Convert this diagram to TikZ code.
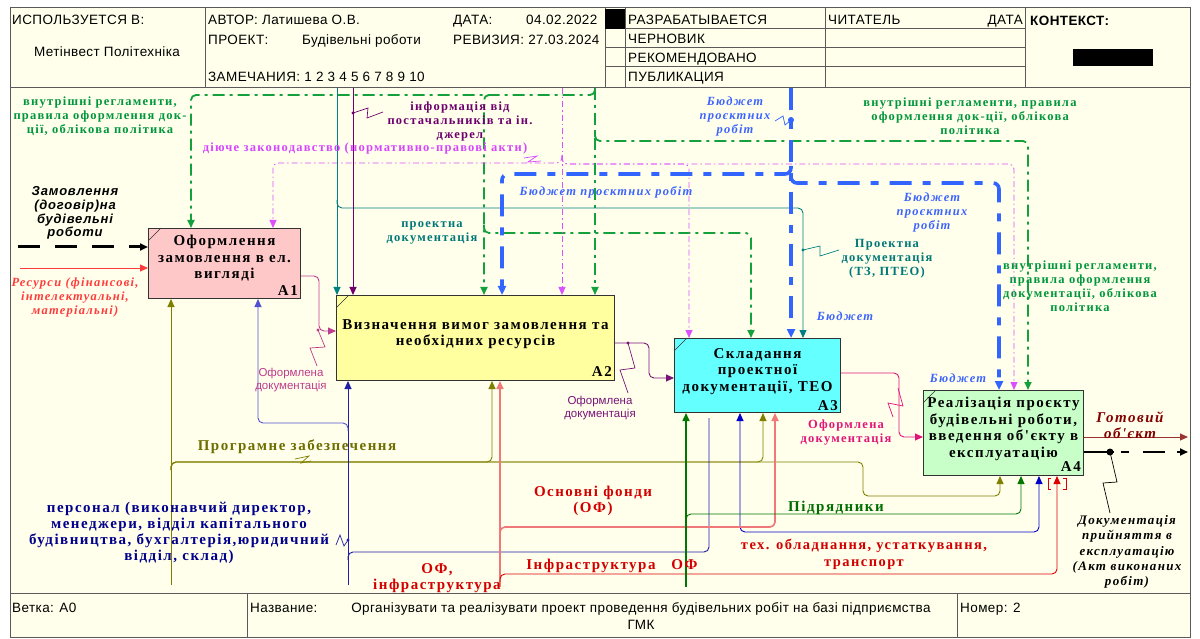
\documentclass[tikz,border=0pt]{standalone}
\usepackage{fontspec}
\setmainfont{Liberation Serif}
\newfontfamily\hdrfamily[LetterSpace=3]{Liberation Sans}
\newfontfamily\plainsans{Liberation Sans}
\newfontfamily\lblfamily[LetterSpace=10]{Liberation Serif}
\newfontfamily\itsansfamily[LetterSpace=6]{Liberation Sans}
\usetikzlibrary{arrows.meta,calc}

\newcommand\hdrfont{\hdrfamily\fontsize{13.5}{15}\selectfont}
\newcommand\boxfont{\lblfamily\bfseries\fontsize{15}{16.5}\selectfont}
\newcommand\lblfont{\lblfamily\bfseries\fontsize{12.5}{14}\selectfont}
\newcommand\biglblfont{\lblfamily\bfseries\fontsize{15}{16.5}\selectfont}
\newcommand\itlblfont{\lblfamily\bfseries\itshape\fontsize{12.5}{14}\selectfont}
\newcommand\smallsans{\plainsans\fontsize{11.5}{12.5}\selectfont}

\definecolor{paper}{RGB}{255,255,236}
\definecolor{framecol}{RGB}{90,90,90}
\definecolor{boxpink}{RGB}{255,200,200}
\definecolor{boxyellow}{RGB}{255,255,160}
\definecolor{boxcyan}{RGB}{100,255,255}
\definecolor{boxgreen}{RGB}{200,255,200}
\definecolor{ctrlgreen}{RGB}{20,160,60}
\definecolor{lawcol}{RGB}{220,80,255}
\definecolor{budcol}{RGB}{50,100,255}
\definecolor{docteal}{RGB}{0,128,128}
\definecolor{infocol}{RGB}{110,0,110}
\definecolor{swcol}{RGB}{128,128,0}
\definecolor{staffcol}{RGB}{30,30,170}
\definecolor{staffA1col}{RGB}{80,80,210}
\definecolor{techcol}{RGB}{0,0,200}
\definecolor{fundcol}{RGB}{240,120,120}
\definecolor{infracol}{RGB}{220,0,0}
\definecolor{subcol}{RGB}{0,120,0}
\definecolor{out1col}{RGB}{190,60,140}
\definecolor{out2col}{RGB}{120,20,120}
\definecolor{out3col}{RGB}{225,20,120}
\definecolor{prodcol}{RGB}{130,0,0}
\definecolor{resred}{RGB}{255,60,60}
\definecolor{txtgreen}{RGB}{0,150,60}
\definecolor{txtmag}{RGB}{215,70,255}
\definecolor{txtblue}{RGB}{60,100,255}
\definecolor{txtteal}{RGB}{0,120,120}
\definecolor{txtred}{RGB}{210,0,0}
\definecolor{txtnavy}{RGB}{0,0,140}
\definecolor{txtolive}{RGB}{110,110,0}
\definecolor{txtsub}{RGB}{0,110,0}

\begin{document}
\begin{tikzpicture}[x=1pt,y=-1pt,
  frame/.style={draw=framecol, line width=1pt},
  box/.style={draw=black!80, line width=1pt, anchor=north west, inner sep=0pt},
  boxtext/.style={align=center, font=\boxfont, inner sep=0pt},
  boxid/.style={anchor=east, font=\boxfont, inner sep=0pt},
  hdr/.style={anchor=base west, inner sep=0pt, font=\hdrfont},
  lbl/.style={align=center, inner sep=0pt, font=\lblfont},
  itlbl/.style={align=center, inner sep=0pt, font=\itlblfont},
  biglbl/.style={align=center, inner sep=0pt, font=\biglblfont},
  idefarrow/.style={-{Triangle[length=8pt,width=7pt]}},
  ctrl/.style={draw=ctrlgreen, line width=1.8pt, dash pattern=on 12pt off 5pt on 3pt off 5pt, rounded corners=5pt, idefarrow},
  law/.style={draw=lawcol, line width=0.8pt, dash pattern=on 6pt off 3pt on 1.5pt off 3pt, rounded corners=5pt, idefarrow},
  tealline/.style={draw=docteal, line width=0.9pt, rounded corners=5pt, idefarrow},
  infoline/.style={draw=infocol, line width=0.9pt, idefarrow},
  budget/.style={draw=budcol, line width=3.6pt, dash pattern=on 22pt off 11pt on 8pt off 11pt, rounded corners=6pt, -{Triangle[length=9pt,width=8pt]}},
  out1/.style={draw=out1col, line width=0.9pt, rounded corners=5pt, idefarrow},
  out2/.style={draw=out2col, line width=0.9pt, rounded corners=5pt, idefarrow},
  out3/.style={draw=out3col, line width=0.9pt, rounded corners=5pt, idefarrow},
  prod/.style={draw=prodcol!80, line width=1pt, idefarrow},
  docout/.style={draw=black, line width=2.6pt, dash pattern=on 30pt off 7pt on 8pt off 14pt on 22pt off 12pt, -{Triangle[length=8pt,width=7pt]}},
  order/.style={draw=black, line width=3pt, dash pattern=on 22pt off 15pt, -{Triangle[length=8pt,width=7pt]}},
  resin/.style={draw=resred, line width=0.9pt, idefarrow},
  sw/.style={draw=swcol, line width=0.9pt, rounded corners=5pt, idefarrow},
  staff/.style={draw=staffcol, line width=0.9pt, rounded corners=5pt, idefarrow},
  staffA1/.style={draw=staffA1col, line width=0.9pt, rounded corners=5pt, idefarrow},
  staffnt/.style={draw=staffcol, line width=0.9pt, rounded corners=5pt},
  techline/.style={draw=techcol, line width=0.9pt, rounded corners=5pt, {Triangle[length=8pt,width=7pt]}-{Triangle[length=8pt,width=7pt]}},
  fund/.style={draw=fundcol, line width=1.6pt, rounded corners=5pt, idefarrow},
  infra/.style={draw=infracol, line width=0.9pt, rounded corners=5pt, idefarrow},
  subv/.style={draw=subcol, line width=1.6pt, idefarrow},
  subh/.style={draw=subcol, line width=0.9pt, rounded corners=5pt, idefarrow},
  squig/.style={line width=0.7pt}
]
\useasboundingbox (0,0) rectangle (1200,639);
\fill[white] (0,0) rectangle (1200,639);
\fill[paper] (10,8) rectangle (1190,637);

% ---------- header grid ----------
\draw[frame] (10,8) rectangle (1190,637);
\draw[frame] (10,88) -- (1190,88);
\draw[frame] (205,8) -- (205,88);
\draw[frame] (605,8) -- (605,88);
\draw[frame] (625,8) -- (625,88);
\draw[frame] (825,8) -- (825,88);
\draw[frame] (1025,8) -- (1025,88);
\foreach \yy in {29,48,67} \draw[frame] (605,\yy) -- (1025,\yy);
\fill[black] (605,9) rectangle (625,29);
\fill[black] (1073,49) rectangle (1153,66);

\node[hdr] (hUsed) at (12,25) {ИСПОЛЬЗУЕТСЯ В:};
\node[hdr, anchor=base] (hOrg) at (107,57) {Метінвест Політехніка};
\node[hdr] (hAuthor) at (208,25) {АВТОР: Латишева О.В.};
\node[hdr] (hDate) at (453,25) {ДАТА:};
\node[hdr] (hDateV) at (526,25) {04.02.2022};
\node[hdr] (hProj) at (208,45) {ПРОЕКТ:};
\node[hdr] (hProjV) at (302,45) {Будівельні роботи};
\node[hdr] (hRev) at (453,45) {РЕВИЗИЯ: 27.03.2024};
\node[hdr] (hNotes) at (208,82) {ЗАМЕЧАНИЯ: 1 2 3 4 5 6 7 8 9 10};
\node[hdr] (hS1) at (628,25) {РАЗРАБАТЫВАЕТСЯ};
\node[hdr] (hS2) at (628,44) {ЧЕРНОВИК};
\node[hdr] (hS3) at (628,63) {РЕКОМЕНДОВАНО};
\node[hdr] (hS4) at (628,82) {ПУБЛИКАЦИЯ};
\node[hdr] (hReader) at (828,25) {ЧИТАТЕЛЬ};
\node[hdr, anchor=base east] (hRDate) at (1023,25) {ДАТА};
\node[hdr, font=\hdrfont\bfseries] (hCtx) at (1030,26) {КОНТЕКСТ:};

% ---------- footer ----------
\draw[frame] (10,593) -- (1190,593);
\draw[frame] (247,593) -- (247,637);
\draw[frame] (957,593) -- (957,637);
\node[hdr] (fBranch) at (12,612) {Ветка: А0};
\node[hdr] (fName) at (250,612) {Название:};
\node[hdr, anchor=center, align=center, font=\hdrfamily\fontsize{13.5}{17}\selectfont] (fTitle) at (641,616) {Організувати та реалізувати проект проведення будівельних робіт на базі підприємства\\ГМК};
\node[hdr] (fNum) at (960,612) {Номер: 2};

% ---------- activity boxes ----------
\node[box, fill=boxpink, minimum width=152pt, minimum height=70pt] (A1) at (148,228) {};
\node[box, fill=boxyellow, minimum width=278pt, minimum height=85pt] (A2) at (336,295) {};
\node[box, fill=boxcyan, minimum width=166pt, minimum height=74pt] (A3) at (674,338) {};
\node[box, fill=boxgreen, minimum width=160pt, minimum height=85pt] (A4) at (923,390) {};
\foreach \b in {A1,A2,A3,A4}
  \draw[black!80, line width=0.6pt] (\b.north west) ++(0,13) -- ++(13,-13);

\node[boxtext] (A1t) at ($(A1.center)+(0,-5)$) {Оформлення\\замовлення в ел.\\вигляді};
\node[boxtext] (A2t) at ($(A2.center)+(0,-4)$) {Визначення вимог замовлення та\\необхідних ресурсів};
\node[boxtext] (A3t) at ($(A3.center)+(0,-4)$) {Складання\\проектної\\документації, ТЕО};
\node[boxtext] (A4t) at ($(A4.center)+(0,-4)$) {Реалізація проєкту\\будівельні роботи,\\введення об'єкту в\\експлуатацію};
\node[boxid] (A1n) at ($(A1.south east)+(-3,-8)$) {A1};
\node[boxid] (A2n) at ($(A2.south east)+(-3,-9)$) {A2};
\node[boxid] (A3n) at ($(A3.south east)+(-3,-7)$) {A3};
\node[boxid] (A4n) at ($(A4.south east)+(-3,-9)$) {A4};

% ---------- controls (from the top) ----------
\coordinate (gTop) at (595,88);
\coordinate (gLeft) at (191,95);
\coordinate (gMid) at (484,95);
\coordinate (gA3) at (751,233);
\coordinate (gA4) at (1028,141);
\draw[ctrl] (gTop) -- (gTop |- A2.north);
\draw[ctrl] (gTop) |- (gLeft) -- (gLeft |- A1.north);
\draw[ctrl] ($(gMid)+(10,0)$) -| (gMid |- A2.north);
\draw[ctrl] ($(gMid|-gA3)+(0,-8)$) |- (gA3) -- (gA3 |- A3.north);
\draw[ctrl] ($(gTop|-gA4)+(0,-8)$) |- (gA4) -- (gA4 |- A4.north);

\coordinate (mTop) at (562,88);
\coordinate (mA1) at (273,163);
\coordinate (mA3) at (689,164);
\coordinate (mA4) at (1014,164);
\draw[law] (mTop) -- (mTop |- A2.north);
\draw[law] ($(mTop|-mA1)+(0,-8)$) |- (mA1) -- (mA1 |- A1.north);
\draw[law] ($(mTop|-mA3)+(0,-8)$) |- (mA3) -- (mA3 |- A3.north);
\draw[law] ($(mTop|-mA4)+(0,-8)$) |- (mA4) -- (mA4 |- A4.north);

\coordinate (tTop) at (337,88);
\coordinate (tA3) at (803,208);
\draw[tealline] (tTop) -- (tTop |- A2.north);
\draw[tealline] ($(tTop|-tA3)+(0,-8)$) |- (tA3) -- (tA3 |- A3.north);

\coordinate (pTop) at (353,88);
\draw[infoline] (pTop) -- (pTop |- A2.north);

\coordinate (bTop) at (791,88);
\coordinate (bA2) at (502,174);
\coordinate (bA4) at (999,183);
\draw[budget] (bTop) -- (bTop |- A3.north);
\draw[budget] ($(bTop|-bA2)+(0,-8)$) |- (bA2) -- (bA2 |- A2.north);
\draw[budget] ($(bTop|-bA4)+(0,-8)$) |- (bA4) -- (bA4 |- A4.north);

% ---------- inputs ----------
\coordinate (ordStart) at (18,247);
\draw[order] (ordStart) -- (ordStart -| A1.west);
\coordinate (resStart) at (20,268);
\draw[resin] (resStart) -- (resStart -| A1.west);

% ---------- outputs ----------
\draw[out1] ($(A1.north east)+(0,48)$) -- ++(18,0) |- ($(A2.north west)+(0,36)$);
\draw[out2] ($(A2.north east)+(0,48)$) -- ++(34,0) |- ($(A3.north west)+(0,40)$);
\draw[out3] ($(A3.north east)+(0,35)$) -- ++(58,0) |- ($(A4.north west)+(0,47)$);
\coordinate (prodEnd) at (1188,437);
\coordinate (docEnd) at (1188,452);
\draw[prod] (prodEnd -| A4.east) -- (prodEnd);
\draw[docout] (docEnd -| A4.east) -- (docEnd);

% ---------- mechanisms (from the bottom) ----------
\coordinate (swBot) at (171,585);
\coordinate (swA2) at (492,462);
\coordinate (swA3) at (763,462);
\coordinate (swJog) at (863,462);
\coordinate (swA4) at (1000,496);
\draw[sw] (swBot) -- (swBot |- A1.south);
\draw[sw] ($(swBot|-swA2)+(0,8)$) |- (swA2) -- (swA2 |- A2.south);
\draw[sw] ($(swBot|-swA3)+(0,8)$) |- (swA3) -- (swA3 |- A3.south);
\draw[sw] ($(swBot|-swA3)+(0,8)$) |- (swJog) |- (swA4) -- (swA4 |- A4.south);

\coordinate (stBot) at (348,585);
\coordinate (stA1) at (258,423);
\coordinate (stA3) at (709,552);
\draw[staff] (stBot) -- (stBot |- A2.south);
\draw[staffA1] ($(stBot|-stA1)+(0,8)$) |- (stA1) -- (stA1 |- A1.south);
\draw[staffnt] ($(stBot|-stA3)+(0,8)$) |- (stA3) -- ($(A3.south west)+(35,5)$);

\coordinate (tech) at (1039,532);
\draw[techline] ($(A3.south west)+(66,0)$) |- (tech) -- (tech |- A4.south);

\coordinate (fBot) at (500,587);
\coordinate (fA3) at (775,527);
\coordinate (iA4) at (1057,574);
\draw[fund] (fBot) -- (fBot |- A2.south);
\draw[fund] ($(fBot|-fA3)+(0,8)$) |- (fA3) -- (fA3 |- A3.south);
\draw[infra] ($(fBot|-iA4)+(0,8)$) |- (iA4) -- (iA4 |- A4.south);
\draw[infracol, line width=0.7pt] (1051,478) -- (1048,478) -- (1048,489) -- (1051,489);
\draw[infracol, line width=0.7pt] (1063,478) -- (1066,478) -- (1066,489) -- (1063,489);

\coordinate (kBot) at (686,587);
\coordinate (kA4) at (1021,514);
\draw[subv] (kBot) -- (kBot |- A3.south);
\draw[subh] ($(kBot|-kA4)+(0,8)$) |- (kA4) -- (kA4 |- A4.south);

% ---------- squiggles tying labels to arrows ----------
\fill[infocol] (353,113) circle (1.6pt);
\draw[squig, infocol] (353,113) -- (368,108) -- (367,118) -- (383,112);
\draw[squig, lawcol] (524,158) -- (537,156) -- (528,162) -- (541,161);
\fill[budcol] (791,120) circle (3pt);
\draw[squig, budcol] (791,120) -- (785,125) -- (783,116) -- (775,121);
\fill[docteal] (803,250) circle (1.6pt);
\draw[squig, docteal] (803,250) -- (820,246) -- (820,256) -- (839,250);
\fill[out1col] (318,330) circle (1.6pt);
\draw[squig, out1col] (318,330) -- (325,347) -- (310,348) -- (317,366);
\fill[out2col] (628,343) circle (1.6pt);
\draw[squig, out2col] (628,343) -- (635,368) -- (620,370) -- (628,393);
\draw[squig, out3col] (898,388) -- (903,406) -- (888,403) -- (893,417);
\coordinate (docDot) at (1110,452);
\fill[black] (docDot) circle (3.5pt);
\draw[squig, black] (docDot) -- (1117,482) -- (1103,483) -- (1110,513);
\draw[squig, swcol] (295,459) -- (309,456) -- (301,463) -- (311,461);
\fill[staffcol] (348,540) circle (1.6pt);
\draw[squig, staffcol] (348,540) -- (344,546) -- (340,535) -- (336,545);

% ---------- labels ----------
\node[lbl, text=txtgreen] (lRegL) at (100,116) {внутрішні регламенти,\\правила оформлення док-\\ції, облікова політика};
\node[lbl, text=infocol] (lInfo) at (460,121) {інформація від\\постачальників та ін.\\джерел};
\node[lbl, text=txtmag] (lLaw) at (365,148) {діюче законодавство (нормативно-правові акти)};
\node[itlbl, text=txtblue] (lBudTop) at (735,116) {Бюджет\\проєктних\\робіт};
\node[lbl, text=txtgreen] (lRegR) at (970,116) {внутрішні регламенти, правила\\оформлення док-ції, облікова\\політика};
\node[itlbl, text=txtblue] (lBudMid) at (606,192) {Бюджет проєктних робіт};
\node[lbl, text=txtteal] (lProjDoc) at (432,233) {проектна\\документація};
\node[itlbl, text=txtblue] (lBudR) at (932,212) {Бюджет\\проєктних\\робіт};
\node[lbl, text=txtteal] (lTZ) at (887,259) {Проектна\\документація\\(ТЗ, ПТЕО)};
\node[lbl, text=txtgreen] (lRegA4) at (1080,286) {внутрішні регламенти,\\правила оформлення\\документації, облікова\\політика};
\node[itlbl, text=txtblue] (lBudA3) at (845,316) {Бюджет};
\node[itlbl, text=txtblue] (lBudA4) at (958,378) {Бюджет};

\node[align=center, inner sep=0pt, font=\itsansfamily\bfseries\itshape\fontsize{13}{13.7}\selectfont] (lOrder) at (75,213) {Замовлення\\(договір)на\\будівельні\\роботи};
\node[itlbl, text=resred] (lRes) at (75,297) {Ресурси (фінансові,\\інтелектуальні,\\матеріальні)};

\node[align=center, inner sep=0pt, font=\smallsans, text=out1col] (lOut1) at (291,380) {Оформлена\\документація};
\node[align=center, inner sep=0pt, font=\smallsans, text=out2col] (lOut2) at (600,408) {Оформлена\\документація};
\node[lbl, text=out3col] (lOut3) at (846,433) {Оформлена\\документація};
\node[align=center, inner sep=0pt, font=\lblfamily\bfseries\itshape\fontsize{15}{16}\selectfont, text=prodcol] (lProd) at (1130,425) {Готовий\\об'єкт};
\node[align=center, inner sep=0pt, font=\lblfamily\bfseries\itshape\fontsize{13}{15.2}\selectfont] (lDoc) at (1127,552) {Документація\\прийняття в\\експлуатацію\\(Акт виконаних\\робіт)};

\node[biglbl, text=txtolive] (lSw) at (297,447) {Програмне забезпечення};
\node[biglbl, text=txtnavy, font=\lblfamily\bfseries\fontsize{15}{16}\selectfont] (lStaff) at (179,533) {персонал (виконавчий директор,\\менеджери, відділ капітального\\будівництва, бухгалтерія,юридичний\\відділ, склад)};
\node[biglbl, text=txtred] (lFund) at (593,501) {Основні фонди\\(ОФ)};
\node[biglbl, text=txtred] (lOFinf) at (437,578) {ОФ,\\інфраструктура};
\node[biglbl, text=txtred] (lInfra) at (612,566) {Інфраструктура\ \ \ ОФ};
\node[biglbl, text=txtsub] (lSub) at (836,508) {Підрядники};
\node[biglbl, text=txtred, font=\lblfamily\bfseries\fontsize{14.5}{17}\selectfont] (lTech) at (864,554) {тех. обладнання, устаткування,\\транспорт};

\end{tikzpicture}
\end{document}
